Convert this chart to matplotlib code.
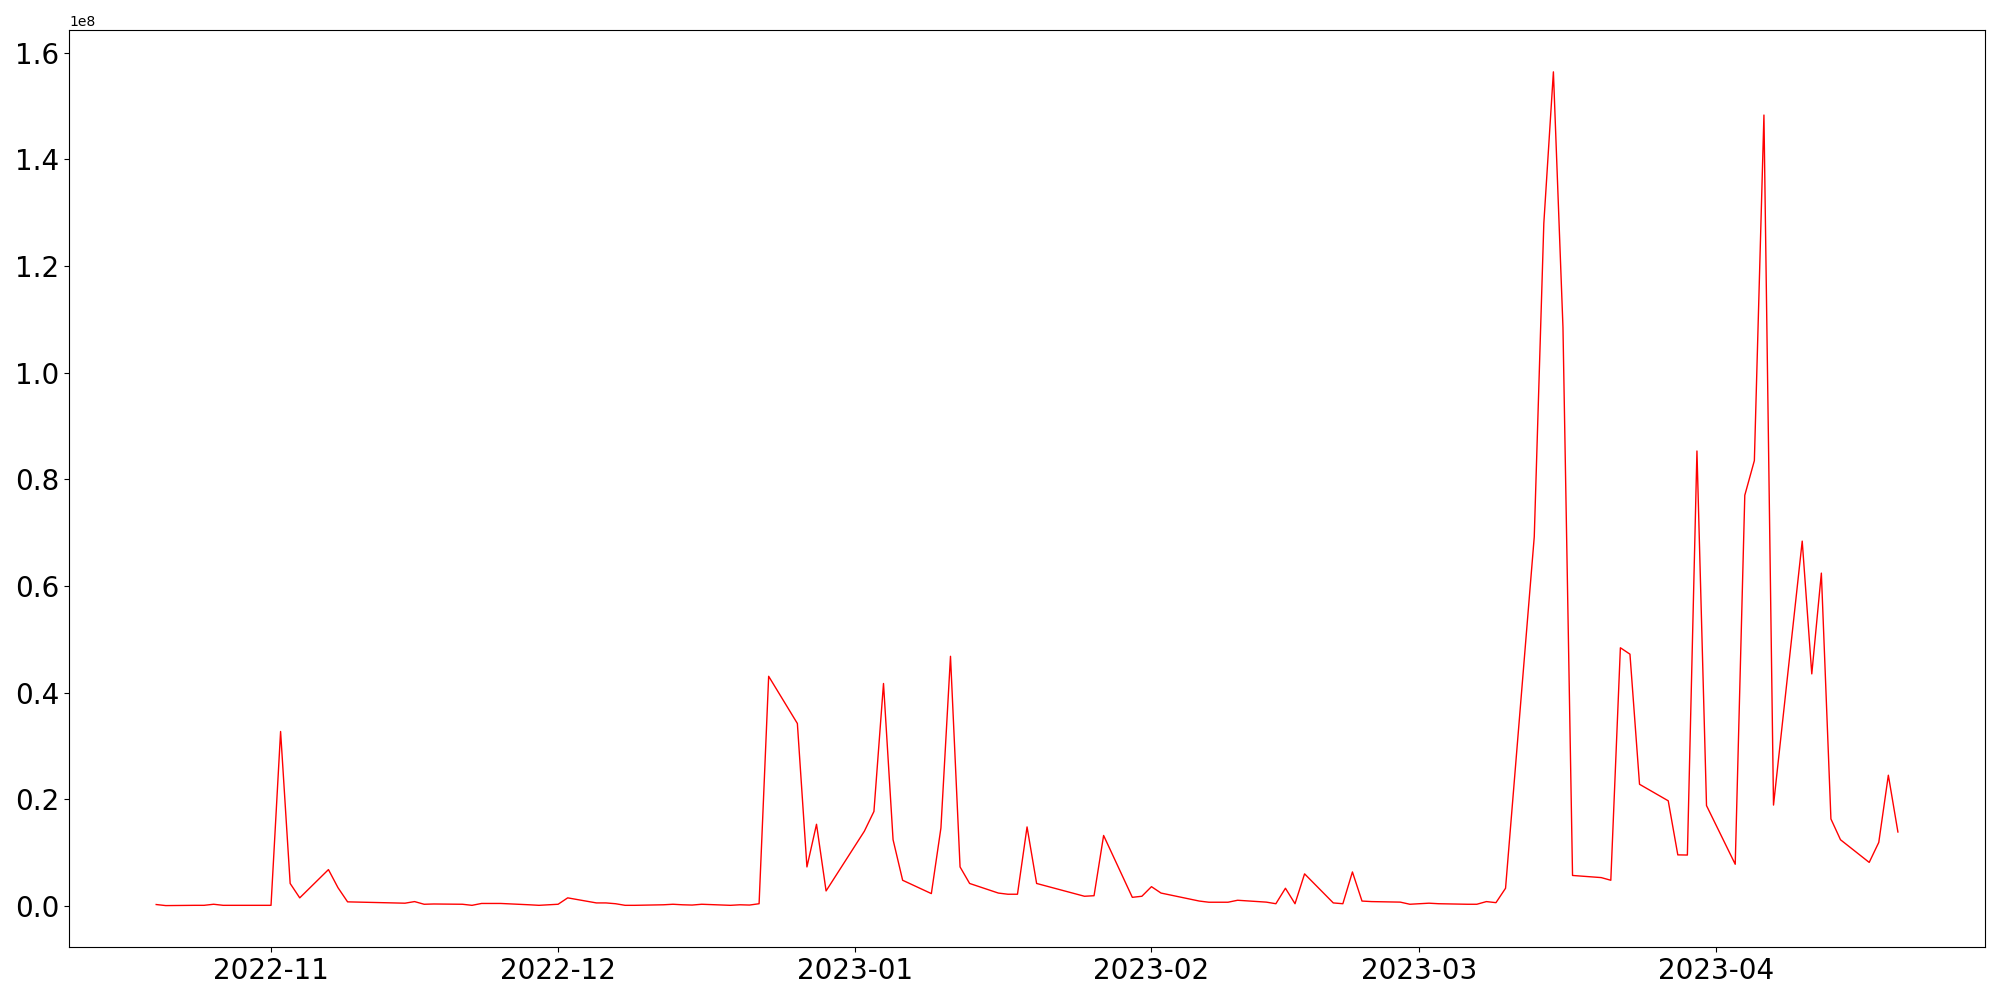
import pandas as pd
from matplotlib import pyplot as plt

# trading days (gaps kept as in the source data)
dates = [
    '2022-10-20', '2022-10-21', '2022-10-24', '2022-10-25', '2022-10-26', '2022-10-27', '2022-10-28',
    '2022-10-31', '2022-11-01', '2022-11-02', '2022-11-03', '2022-11-04', '2022-11-07', '2022-11-08',
    '2022-11-09', '2022-11-15', '2022-11-16', '2022-11-17', '2022-11-18', '2022-11-21', '2022-11-22',
    '2022-11-23', '2022-11-24', '2022-11-25', '2022-11-28', '2022-11-29', '2022-12-01', '2022-12-02',
    '2022-12-05', '2022-12-06', '2022-12-07', '2022-12-08', '2022-12-09', '2022-12-12', '2022-12-13',
    '2022-12-14', '2022-12-15', '2022-12-16', '2022-12-19', '2022-12-20', '2022-12-21', '2022-12-22',
    '2022-12-23', '2022-12-26', '2022-12-27', '2022-12-28', '2022-12-29', '2023-01-02', '2023-01-03',
    '2023-01-04', '2023-01-05', '2023-01-06', '2023-01-09', '2023-01-10', '2023-01-11', '2023-01-12',
    '2023-01-13', '2023-01-16', '2023-01-17', '2023-01-18', '2023-01-19', '2023-01-20', '2023-01-25',
    '2023-01-26', '2023-01-27', '2023-01-30', '2023-01-31', '2023-02-01', '2023-02-02', '2023-02-06',
    '2023-02-07', '2023-02-08', '2023-02-09', '2023-02-10', '2023-02-13', '2023-02-14', '2023-02-15',
    '2023-02-16', '2023-02-17', '2023-02-20', '2023-02-21', '2023-02-22', '2023-02-23', '2023-02-24',
    '2023-02-27', '2023-02-28', '2023-03-01', '2023-03-02', '2023-03-03', '2023-03-06', '2023-03-07',
    '2023-03-08', '2023-03-09', '2023-03-10', '2023-03-13', '2023-03-14', '2023-03-15', '2023-03-16',
    '2023-03-17', '2023-03-20', '2023-03-21', '2023-03-22', '2023-03-23', '2023-03-24', '2023-03-27',
    '2023-03-28', '2023-03-29', '2023-03-30', '2023-03-31', '2023-04-03', '2023-04-04', '2023-04-05',
    '2023-04-06', '2023-04-07', '2023-04-10', '2023-04-11', '2023-04-12', '2023-04-13', '2023-04-14',
    '2023-04-17', '2023-04-18', '2023-04-19', '2023-04-20',
]

# values in units of 1e8
volume_1e8 = [
    0.0025, 0.0005, 0.001, 0.001, 0.003, 0.001, 0.001,
    0.001, 0.001, 0.327, 0.042, 0.015, 0.068, 0.034,
    0.0075, 0.005, 0.008, 0.003, 0.0035, 0.003, 0.001,
    0.0045, 0.0045, 0.0045, 0.002, 0.001, 0.003, 0.015,
    0.0055, 0.0055, 0.004, 0.001, 0.001, 0.002, 0.003,
    0.002, 0.0015, 0.003, 0.001, 0.002, 0.0015, 0.004,
    0.4305, 0.342, 0.073, 0.153, 0.028, 0.140, 0.177,
    0.417, 0.124, 0.048, 0.023, 0.146, 0.468, 0.073,
    0.042, 0.024, 0.0218, 0.0218, 0.148, 0.042, 0.018,
    0.019, 0.132, 0.016, 0.018, 0.036, 0.024, 0.009,
    0.0068, 0.0068, 0.0068, 0.0105, 0.007, 0.004, 0.033,
    0.004, 0.060, 0.0055, 0.004, 0.0636, 0.009, 0.008,
    0.007, 0.003, 0.004, 0.005, 0.004, 0.003, 0.003,
    0.008, 0.006, 0.033, 0.692, 1.28, 1.564, 1.085,
    0.057, 0.053, 0.048, 0.484, 0.472, 0.228, 0.197,
    0.0956, 0.0953, 0.853, 0.188, 0.078, 0.770, 0.835,
    1.483, 0.189, 0.684, 0.435, 0.624, 0.163, 0.124,
    0.0815, 0.119, 0.245, 0.1385,
]

s = pd.Series([v * 1e8 for v in volume_1e8], index=pd.to_datetime(dates))

fig, ax = plt.subplots(figsize=(20, 10), dpi=100)
ax.plot(s.index, s.values, color='red', linewidth=1)
ax.tick_params(axis='both', labelsize=20)

plt.tight_layout()
fig.savefig('out.png', dpi=100)
plt.close(fig)
